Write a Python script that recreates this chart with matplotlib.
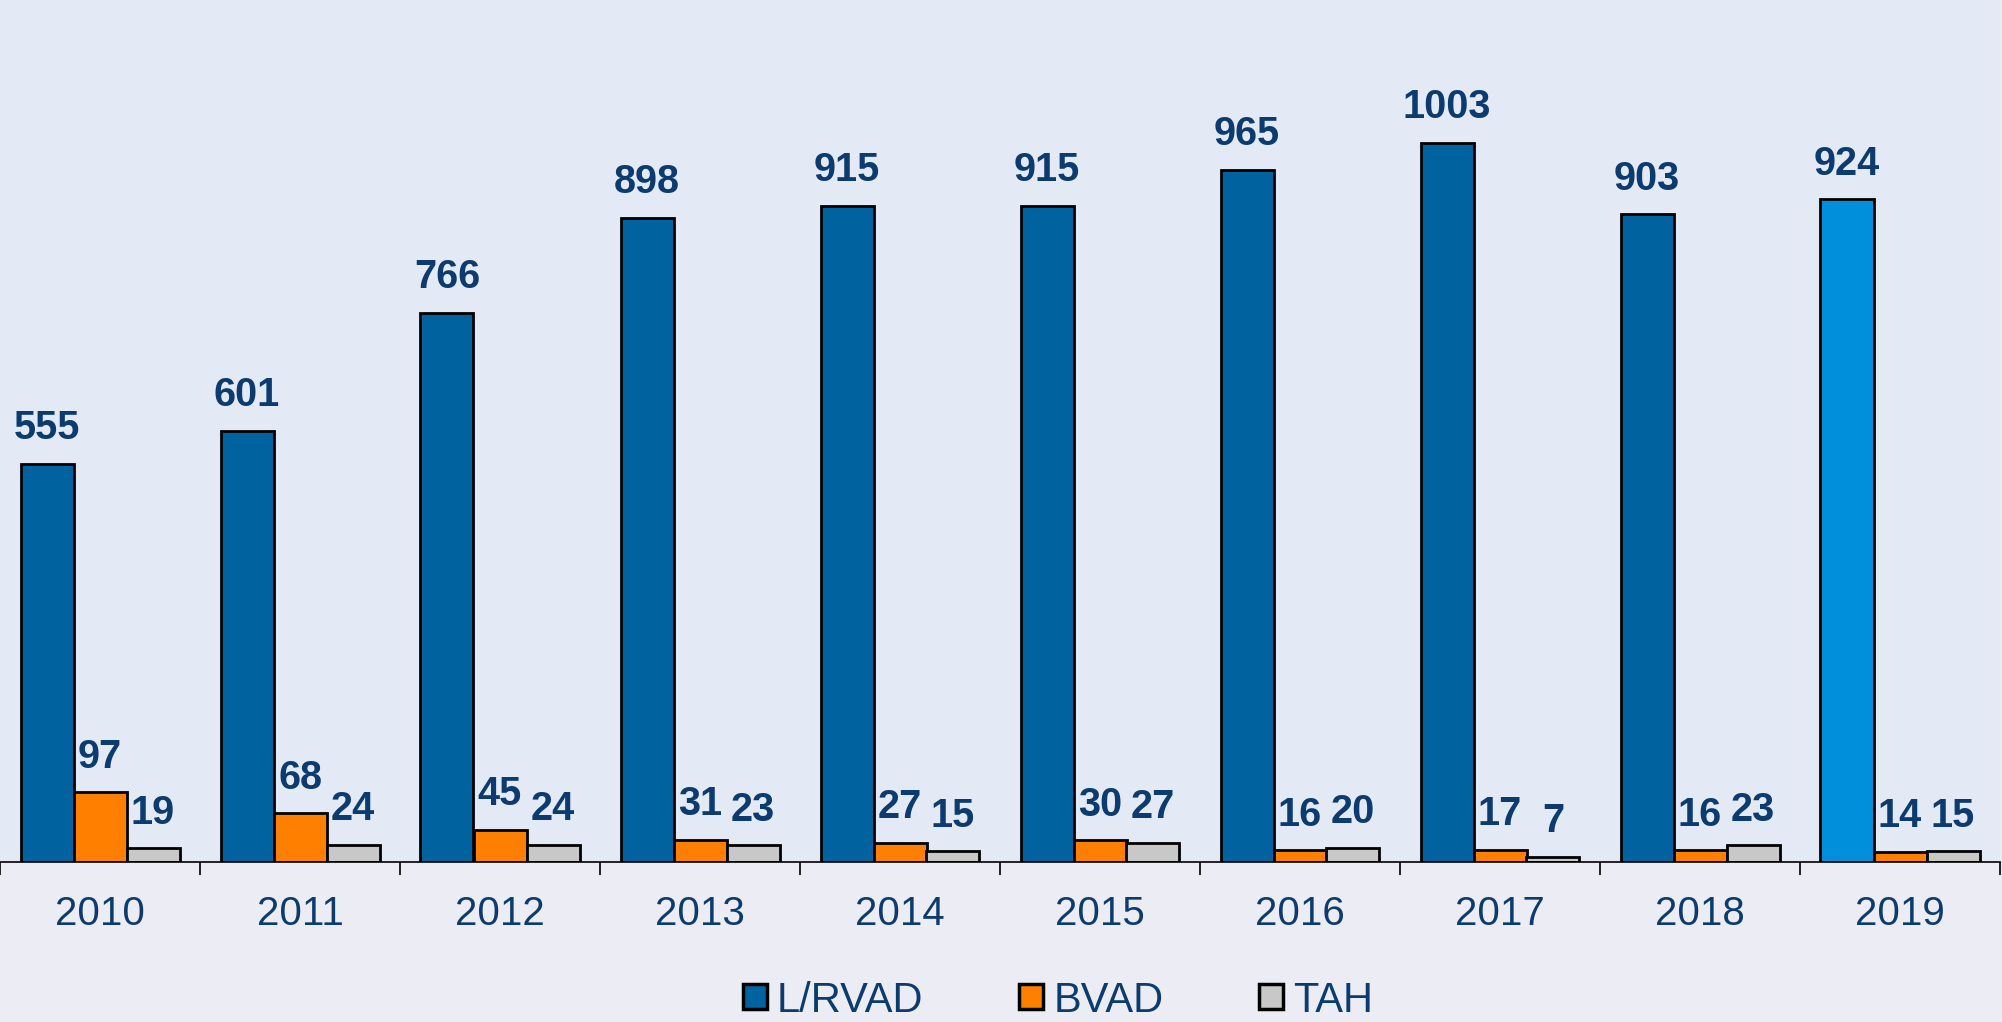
import numpy as np
import matplotlib
matplotlib.use("Agg")
from matplotlib import pyplot as plt
from matplotlib.patches import Patch

years = ["2010", "2011", "2012", "2013", "2014", "2015", "2016", "2017", "2018", "2019"]
lrvad = [555, 601, 766, 898, 915, 915, 965, 1003, 903, 924]
bvad = [97, 68, 45, 31, 27, 30, 16, 17, 16, 14]
tah = [19, 24, 24, 23, 15, 27, 20, 7, 23, 15]
series_names = ["L/RVAD", "BVAD", "TAH"]

blue = "#0063A0"
blue_last = "#008FDB"
orange = "#FF7F00"
grey = "#C8C8C8"
navy = "#0B3B6F"
plot_bg = "#E3E9F5"
fig_bg = "#ECEDF4"

plt.rcParams["font.family"] = ["Liberation Sans", "DejaVu Sans"]

fig = plt.figure(figsize=(20.02, 10.22), dpi=100, facecolor=fig_bg)
ax = fig.add_axes([0, 0.1566, 2000 / 2002, 1 - 0.1566])
ax.set_facecolor(plot_bg)

x = np.arange(len(years))
w = 0.265
blue_colors = [blue] * (len(years) - 1) + [blue_last]
b1 = ax.bar(x - w, lrvad, w, color=blue_colors, edgecolor="black", linewidth=2)
b2 = ax.bar(x, bvad, w, color=orange, edgecolor="black", linewidth=2)
b3 = ax.bar(x + w, tah, w, color=grey, edgecolor="black", linewidth=2)

# value labels above every bar
for bars in (b1, b2, b3):
    ax.bar_label(bars, padding=12, fontsize=28.5, fontweight="bold", color=navy)

ax.set_xlim(-0.5, len(years) - 0.5)
ax.set_ylim(0, 1202)
ax.set_yticks([])
for s in ("left", "right", "top"):
    ax.spines[s].set_visible(False)
ax.spines["bottom"].set_linewidth(1.2)

ax.set_xticks(x)
ax.set_xticklabels(years, fontsize=29, color=navy)
ax.tick_params(axis="x", which="major", length=0, pad=24)
ax.set_xticks(np.arange(len(years) + 1) - 0.5, minor=True)
ax.tick_params(axis="x", which="minor", length=9, width=1.2, direction="out")

handles = [Patch(facecolor=c, edgecolor="black", linewidth=2.5) for c in (blue, orange, grey)]
leg = fig.legend(handles, series_names, loc="center", bbox_to_anchor=(0.5285, 0.021),
                 ncol=3, frameon=False, handlelength=0.58, handleheight=0.55,
                 handletextpad=0.24, columnspacing=2.3, borderpad=0,
                 prop={"size": 30})
for t in leg.get_texts():
    t.set_color(navy)

fig.savefig("out.png", dpi=100, facecolor=fig_bg)
